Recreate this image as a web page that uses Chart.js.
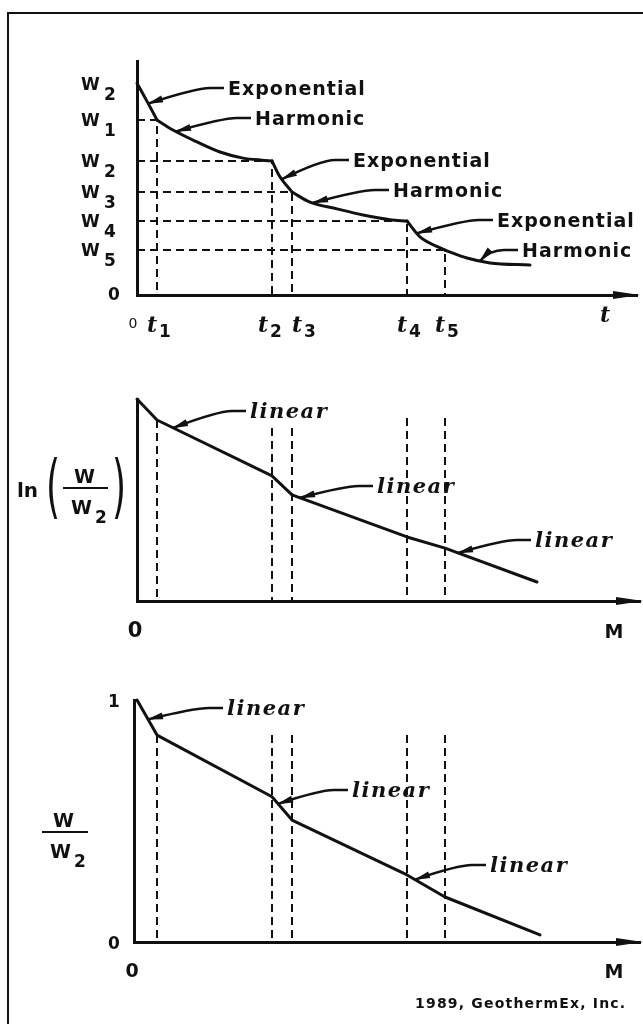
<!DOCTYPE html>
<html>
<head>
<meta charset="utf-8">
<title>Decline curves</title>
<script src="https://cdn.jsdelivr.net/npm/chart.js@4.4.1/dist/chart.umd.min.js"></script>
<style>
  html, body { margin: 0; padding: 0; background: #fff; overflow: hidden; }
  #page { position: relative; width: 643px; height: 1024px; overflow: hidden; background: #fff; }
  #frame { position: absolute; left: 7px; top: 12px; width: 700px; height: 1100px; border: 2px solid #111; }
  canvas { position: absolute; left: 0; top: 0; }
</style>
</head>
<body>
<div id="page">
  <div id="frame"></div>
  <canvas id="rateChart" width="643" height="1024"></canvas>
  <canvas id="lnChart" width="643" height="1024"></canvas>
  <canvas id="ratioChart" width="643" height="1024"></canvas>
</div>
<script>
// ---- marks shared by the time axis and the cumulative axis
const tMarks = [4, 27, 31, 54, 61.6];
const tMarkNames = ["1", "2", "3", "4", "5"];

// ---- top: rate W against time t
const wLevels = [9.0, 7.48, 5.73, 4.40, 3.16, 1.92];
const wLevelNames = ["2", "1", "2", "3", "4", "5"];
const rateT = [0, 2.2, 4, 7.2, 12, 16.6, 21.2, 25, 27, 28.4, 31, 34.6, 40, 45.2, 50.6, 54, 56.6, 61.6, 66, 70.6, 78.6];
const rateW = [9.05, 8.2, 7.48, 7.05, 6.54, 6.11, 5.85, 5.76, 5.73, 5.12, 4.40, 3.97, 3.68, 3.42, 3.22, 3.16, 2.48, 1.92, 1.58, 1.37, 1.28];
// indexes where one decline branch ends and the next begins
const rateBreaks = [0, 2, 8, 10, 15, 17, 20];

// ---- middle: ln(W/W2) against cumulative M
const lnM = [0, 4, 27, 31, 54, 61.6, 80];
const lnW = [1.0, 0.896, 0.619, 0.525, 0.317, 0.262, 0.094];
const lnMarkTop = [0.896, 0.856, 0.856, 0.906, 0.906];

// ---- bottom: W/W2 against cumulative M
const ratioM = [0, 4, 27, 31, 54, 61.6, 80.6];
const ratioW = [1.0, 0.855, 0.60, 0.504, 0.277, 0.186, 0.029];
const ratioMarkTop = [0.855, 0.855, 0.855, 0.855, 0.855];
const ratioTicks = [1, 0];

// callouts (text anchor and arrow tip in data units)
const rateNotes = [
  { text: "Exponential", at: [18.2, 8.55], tip: [2.2, 8.18] },
  { text: "Harmonic", at: [23.6, 7.26], tip: [7.8, 6.99] },
  { text: "Exponential", at: [43.2, 5.47], tip: [29, 4.95] },
  { text: "Harmonic", at: [51.2, 4.19], tip: [35.2, 3.94] },
  { text: "Exponential", at: [72, 2.91], tip: [56, 2.64] },
  { text: "Harmonic", at: [77, 1.62], tip: [68.6, 1.46] }
];
const lnNotes = [
  { text: "linear", at: [22.6, 0.906], tip: [7.2, 0.857] },
  { text: "linear", at: [48, 0.535], tip: [32.6, 0.511] },
  { text: "linear", at: [79.6, 0.267], tip: [64.2, 0.238] }
];
const ratioNotes = [
  { text: "linear", at: [18, 0.938], tip: [2.2, 0.92] },
  { text: "linear", at: [43, 0.599], tip: [28.2, 0.571] },
  { text: "linear", at: [70.6, 0.289], tip: [55.6, 0.258] }
];
const tLabelShift = [0, -4, 10, 0, 0];

const ink = "#111";
const sans = '"DejaVu Sans", sans-serif';
const serif = '"DejaVu Serif", serif';
const noteSans = "bold 19px " + sans;
const noteSerif = "italic bold 21px " + serif;

function pts(xs, ys) {
  return xs.map((x, i) => ({ x: x, y: ys[i] }));
}

function axis(min, max) {
  return {
    type: "linear", min: min, max: max,
    grid: { display: false, drawTicks: false },
    ticks: { display: false },
    border: { display: true, color: ink, width: 3 }
  };
}

function curveSet(data, tension) {
  return {
    data: data, borderColor: ink, borderWidth: 3, pointRadius: 0,
    fill: false, tension: tension, cubicInterpolationMode: tension ? "monotone" : "default",
    borderJoinStyle: "round", borderCapStyle: "round", clip: false
  };
}

function dashSet(data) {
  return {
    data: data, borderColor: ink, borderWidth: 2, borderDash: [8, 5],
    pointRadius: 0, fill: false, tension: 0
  };
}

function toPx(chart, x, y) {
  return [chart.scales.x.getPixelForValue(x), chart.scales.y.getPixelForValue(y)];
}

function text(ctx, s, x, y, font, spacing, align) {
  ctx.save();
  ctx.font = font;
  ctx.letterSpacing = (spacing || 0) + "px";
  ctx.textAlign = align || "left";
  ctx.textBaseline = "alphabetic";
  ctx.fillStyle = ink;
  ctx.fillText(s, x, y);
  ctx.restore();
}

function axisArrow(chart) {
  const ctx = chart.ctx, a = chart.chartArea;
  ctx.save();
  ctx.fillStyle = ink;
  ctx.beginPath();
  ctx.moveTo(a.right + 3, a.bottom);
  ctx.lineTo(a.right - 24, a.bottom - 4);
  ctx.lineTo(a.right - 24, a.bottom + 4);
  ctx.closePath();
  ctx.fill();
  ctx.restore();
}

function callout(chart, note, font, spacing) {
  const ctx = chart.ctx;
  const [tx, ty] = toPx(chart, note.at[0], note.at[1]);
  const [ex, ey] = toPx(chart, note.tip[0], note.tip[1]);
  text(ctx, note.text, tx, ty, font, spacing);
  const sy = ty - 7, sx = tx - 4, kx = sx - 14, cx = kx - 14;
  ctx.save();
  ctx.strokeStyle = ink;
  ctx.fillStyle = ink;
  ctx.lineWidth = 2.5;
  ctx.beginPath();
  ctx.moveTo(sx, sy);
  ctx.lineTo(kx, sy);
  ctx.quadraticCurveTo(cx, sy, ex, ey);
  ctx.stroke();
  const ang = Math.atan2(ey - sy, ex - cx);
  const bx = ex - Math.cos(ang) * 15, by = ey - Math.sin(ang) * 15;
  ctx.beginPath();
  ctx.moveTo(ex + Math.cos(ang) * 1, ey + Math.sin(ang) * 1);
  ctx.lineTo(bx - Math.sin(ang) * 3.5, by + Math.cos(ang) * 3.5);
  ctx.lineTo(bx + Math.sin(ang) * 3.5, by - Math.cos(ang) * 3.5);
  ctx.closePath();
  ctx.fill();
  ctx.restore();
}

function paren(ctx, s, x, yc) {
  ctx.save();
  ctx.translate(x, yc);
  ctx.scale(1, 1.95);
  text(ctx, s, 0, 11, "36px " + sans, 0);
  ctx.restore();
}

function fraction(ctx, left, barY, barW) {
  text(ctx, "W", left + 11, barY - 5, "bold 19px " + sans, 0);
  ctx.save();
  ctx.strokeStyle = ink;
  ctx.lineWidth = 2;
  ctx.beginPath();
  ctx.moveTo(left, barY);
  ctx.lineTo(left + barW, barY);
  ctx.stroke();
  ctx.restore();
  text(ctx, "W", left + 8, barY + 26, "bold 19px " + sans, 0);
  text(ctx, "2", left + 32, barY + 35, "bold 17px " + sans, 0);
}

// =======================
// Top: W vs t
// =======================
const rateData = pts(rateT, rateW);
const rateBranches = rateBreaks.slice(1).map((end, i) =>
  curveSet(rateData.slice(rateBreaks[i], end + 1), 0.4));
const rateGuides = tMarks.map((t, i) => dashSet([
  { x: 0, y: wLevels[i + 1] }, { x: t, y: wLevels[i + 1] }, { x: t, y: 0 }
]));

const rateDecor = {
  id: "rateDecor",
  afterDraw(chart) {
    const ctx = chart.ctx, a = chart.chartArea;
    axisArrow(chart);
    wLevels.forEach((w, i) => {
      const py = chart.scales.y.getPixelForValue(w);
      text(ctx, "W", 81, py + 6, "bold 17px " + sans, 0);
      text(ctx, wLevelNames[i], 104, py + 16, "bold 17px " + sans, 0);
    });
    text(ctx, "0", 114, a.bottom + 5, "bold 17px " + sans, 0, "center");
    text(ctx, "0", 133, a.bottom + 33, "14px " + sans, 0, "center");
    tMarks.forEach((t, i) => {
      const px = chart.scales.x.getPixelForValue(t) + tLabelShift[i];
      text(ctx, "t", px - 10, a.bottom + 37, "italic bold 22px " + serif, 0);
      text(ctx, tMarkNames[i], px + 2, a.bottom + 42, "bold 17px " + sans, 0);
    });
    text(ctx, "t", 600, a.bottom + 27, "italic bold 22px " + serif, 0);
    rateNotes.forEach(n => callout(chart, n, noteSans, 1));
  }
};

new Chart(document.getElementById("rateChart"), {
  type: "line",
  data: { datasets: rateBranches.concat(rateGuides) },
  options: {
    responsive: false, animation: false, events: [],
    layout: { padding: { left: 137, right: 6, top: 61, bottom: 729 } },
    scales: { x: axis(0, 100), y: axis(0, 10) },
    plugins: { legend: { display: false }, tooltip: { enabled: false } }
  },
  plugins: [rateDecor]
});

// =======================
// Middle: ln(W/W2) vs M
// =======================
const lnGuides = tMarks.map((t, i) => dashSet([{ x: t, y: lnMarkTop[i] }, { x: t, y: 0 }]));

const lnDecor = {
  id: "lnDecor",
  afterDraw(chart) {
    const ctx = chart.ctx, a = chart.chartArea;
    axisArrow(chart);
    text(ctx, "0", 135, a.bottom + 36, "bold 21px " + sans, 0, "center");
    text(ctx, "M", 614, a.bottom + 37, "bold 19px " + sans, 0, "center");
    text(ctx, "ln", 17, 497, "bold 20px " + sans, 0);
    paren(ctx, "(", 46, 489);
    paren(ctx, ")", 112, 489);
    fraction(ctx, 63, 488, 45);
    lnNotes.forEach(n => callout(chart, n, noteSerif, 1.5));
  }
};

new Chart(document.getElementById("lnChart"), {
  type: "line",
  data: { datasets: [curveSet(pts(lnM, lnW), 0)].concat(lnGuides) },
  options: {
    responsive: false, animation: false, events: [],
    layout: { padding: { left: 137, right: 3, top: 399, bottom: 423 } },
    scales: { x: axis(0, 100.6), y: axis(0, 1) },
    plugins: { legend: { display: false }, tooltip: { enabled: false } }
  },
  plugins: [lnDecor]
});

// =======================
// Bottom: W/W2 vs M
// =======================
const ratioGuides = tMarks.map((t, i) => dashSet([{ x: t, y: ratioMarkTop[i] }, { x: t, y: 0 }]));

const ratioDecor = {
  id: "ratioDecor",
  afterDraw(chart) {
    const ctx = chart.ctx, a = chart.chartArea;
    axisArrow(chart);
    ratioTicks.forEach(v => {
      const py = chart.scales.y.getPixelForValue(v);
      text(ctx, String(v), 114, py + 7, "bold 17px " + sans, 0, "center");
    });
    text(ctx, "0", 132, a.bottom + 35, "bold 19px " + sans, 0, "center");
    text(ctx, "M", 614, a.bottom + 36, "bold 19px " + sans, 0, "center");
    fraction(ctx, 42, 832, 46);
    ratioNotes.forEach(n => callout(chart, n, noteSerif, 1.5));
    text(ctx, "1989, GeothermEx, Inc.", 415, 1008, "bold 14px " + sans, 1.2);
  }
};

new Chart(document.getElementById("ratioChart"), {
  type: "line",
  data: { datasets: [curveSet(pts(ratioM, ratioW), 0)].concat(ratioGuides) },
  options: {
    responsive: false, animation: false, events: [],
    layout: { padding: { left: 134, right: 3, top: 700, bottom: 82 } },
    scales: { x: axis(-0.6, 100.6), y: axis(0, 1) },
    plugins: { legend: { display: false }, tooltip: { enabled: false } }
  },
  plugins: [ratioDecor]
});
</script>
</body>
</html>
